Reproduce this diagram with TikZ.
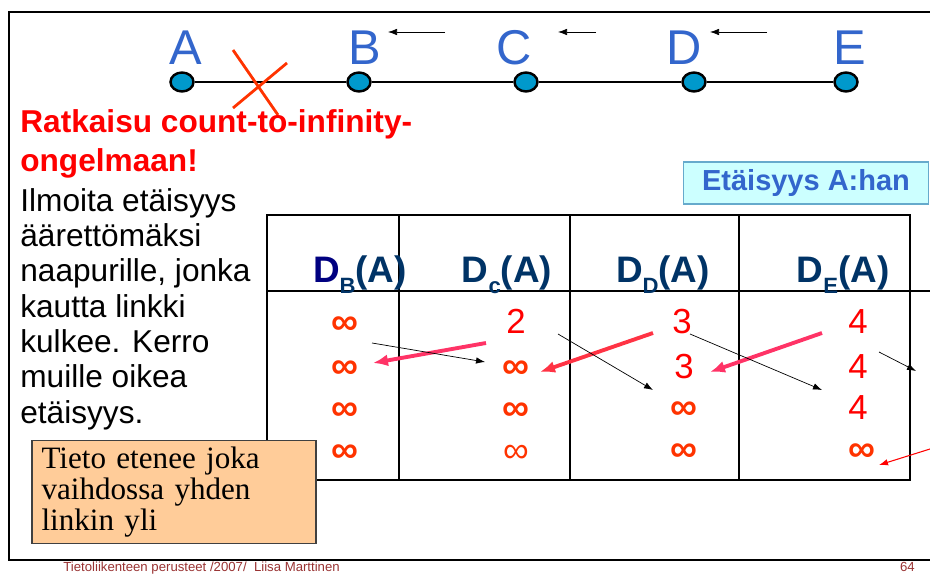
\documentclass[tikz,border=0pt]{standalone}
\usepackage{fontspec}
\setmainfont{Liberation Sans}
\newfontfamily\notefont{Liberation Serif}
\usepackage{xcolor}
\usetikzlibrary{
    positioning,
    arrows.meta,
    shapes.geometric,
}
\definecolor{nodeblue}{HTML}{3366CC}
\definecolor{dotfill}{HTML}{0099CC}
\definecolor{crossred}{HTML}{FF3300}
\definecolor{infred}{HTML}{FF3300}
\definecolor{numred}{HTML}{FF0000}
\definecolor{headdark}{HTML}{003366}
\definecolor{headnavy}{HTML}{000080}
\definecolor{linkpink}{HTML}{FF3366}
\definecolor{linkred}{HTML}{FF3344}
\definecolor{boxcyan}{HTML}{CCFFFF}
\definecolor{boxcyanline}{HTML}{66AACC}
\definecolor{notefill}{HTML}{FFCC99}
\definecolor{footred}{HTML}{993333}
\tikzset{
    % Node styles
    station/.style={ellipse, draw, line width=1.4pt, fill=dotfill,
                    minimum width=0.46cm, minimum height=0.38cm, inner sep=0pt},
    station label/.style={text=nodeblue, font=\fontsize{27.8}{30}\selectfont,
                          anchor=base, inner sep=0pt},
    % Table styles
    head/.style={text=headdark, font=\bfseries\fontsize{21}{24}\selectfont,
                 anchor=base, inner sep=0pt},
    inf/.style={text=infred, font=\bfseries\fontsize{21.5}{22}\selectfont,
                inner sep=0pt, yshift=-1.7pt},
    inf thin/.style={inf, font=\fontsize{20.5}{22}\selectfont},
    num/.style={text=numred, font=\fontsize{19.8}{22}\selectfont, inner sep=0pt},
    % Arrow styles
    hop arrow/.style={-{Latex[length=1.8mm, width=1.3mm]}, line width=0.4pt},
    update arrow/.style={-{Latex[length=3mm, width=2.4mm]}, line width=2.2pt, linkpink},
    % Text styles
    body text/.style={align=left, anchor=base west, inner sep=0pt},
}
\newcommand{\subhead}[1]{\raisebox{-5.7pt}{\fontsize{12.6}{13}\selectfont #1}}

\begin{document}
\begin{tikzpicture}[x=0.02cm, y=-0.02cm,
    table line/.style={line width=0.7pt},
]
    \useasboundingbox (0,0) rectangle (930,574);

    % Slide frame
    \draw[line width=0.7pt] (930,12) -- (9,12) -- (9,560) -- (930,560);

    % Stations and link
    \foreach \n/\x/\lx in {A/182/186, B/359/365, C/526/514, D/694/684, E/846/850} {
        \node[station] (n\n) at (\x,82) {};
        \node[station label] (l\n) at (\lx,65) {\n};
    }
    \foreach \a/\b in {A/B, B/C, C/D, D/E}
        \draw[line width=1.1pt] (n\a) -- (n\b);

    % Broken link
    \draw[crossred, line width=1.6pt] (233,50) -- (278,115);
    \draw[crossred, line width=1.6pt] (287,63) -- (233,108);

    % Direction of updates
    \foreach \i/\s/\t in {1/445/388, 2/596/558, 3/767/710} {
        \coordinate (ts\i) at (\s,32);
        \coordinate (tt\i) at (\t,32);
        \draw[hop arrow] (ts\i) -- (tt\i);
    }

    % Left text (anchored at the last line)
    \node[body text, text=numred, font=\bfseries\fontsize{18}{22.3}\selectfont]
        (title) at (20,172) {Ratkaisu count-to-infinity-\\ongelmaan!};
    \node[body text, font=\fontsize{18}{20.1}\selectfont] (explain) at (20,423)
        {Ilmoita etäisyys\\äärettömäksi\\naapurille, jonka\\kautta linkki\\kulkee. Kerro\\muille oikea\\etäisyys.};

    % Caption box
    \node[draw=boxcyanline, fill=boxcyan, line width=0.8pt, minimum width=4.9cm,
          minimum height=0.84cm, text=nodeblue, font=\bfseries\fontsize{16.5}{18}\selectfont]
        (caption) at (806,183) {Etäisyys A:han};

    % Table
    \draw[table line] (267,215) rectangle (910,480);
    \foreach \x in {399, 570, 739}
        \draw[table line] (\x,215) -- (\x,480);
    \draw[line width=1.7pt] (267,291) -- (930,291);

    \node[head] (hB) at (360,283) {\textcolor{headnavy}{D}\subhead{B}(A)};
    \node[head] (hC) at (507,283) {D\subhead{c}(A)};
    \node[head] (hD) at (663,283) {D\subhead{D}(A)};
    \node[head] (hE) at (843,283) {D\subhead{E}(A)};

    % Column B
    \foreach \n/\y in {1/323, 2/367, 3/409, 4/451}
        \node[inf] (b\n) at (345,\y) {∞};
    % Column C
    \node[num] (c1) at (516,321) {2};
    \foreach \n/\y in {2/367, 3/409}
        \node[inf] (c\n) at (516,\y) {∞};
    \node[inf thin] (c4) at (516,451) {∞};
    % Column D
    \node[num] (d1) at (682,322) {3};
    \node[num] (d2) at (684,367) {3};
    \foreach \n/\y in {3/408, 4/450}
        \node[inf] (d\n) at (684,\y) {∞};
    % Column E
    \foreach \n/\y in {1/322, 2/367, 3/408}
        \node[num] (e\n) at (858,\y) {4};
    \node[inf] (e4) at (862,450) {∞};

    % Updates between neighbours
    \coordinate (ps1) at (486,343); \coordinate (pt1) at (373,363);
    \coordinate (ps2) at (653,333); \coordinate (pt2) at (540,372);
    \coordinate (ps3) at (822,333); \coordinate (pt3) at (710,372);
    \draw[update arrow] (ps1) -- (pt1);
    \draw[update arrow, linkred] (ps2) -- (pt2);
    \draw[update arrow] (ps3) -- (pt3);

    \coordinate (hs1) at (372,343); \coordinate (ht1) at (485,362);
    \coordinate (hs2) at (558,334); \coordinate (ht2) at (653,390);
    \coordinate (hs3) at (690,334); \coordinate (ht3) at (822,390);
    \coordinate (hs4) at (879,352); \coordinate (ht4) at (916,371);
    \foreach \i in {1,...,4}
        \draw[hop arrow] (hs\i) -- (ht\i);

    \coordinate (rs) at (930,449); \coordinate (rt) at (879,465);
    \draw[hop arrow, red, line width=0.6pt] (rs) -- (rt);

    % Note box
    \node[draw=black!75, fill=notefill, line width=0.8pt, minimum width=5.68cm,
          minimum height=2.04cm, text width=5.3cm, align=left,
          font=\notefont\fontsize{17.7}{17.8}\selectfont]
        (note) at (174,492) {Tieto etenee joka\\vaihdossa yhden\\linkin yli};

    % Footer
    \node[anchor=base west, inner sep=0pt, text=footred, font=\fontsize{7.5}{8}\selectfont]
        (footer) at (63,571) {Tietoliikenteen perusteet /2007/\ \ Liisa Marttinen};
    \node[anchor=base east, inner sep=0pt, text=footred, font=\fontsize{7.5}{8}\selectfont]
        (page) at (915,571) {64};
\end{tikzpicture}
\end{document}
